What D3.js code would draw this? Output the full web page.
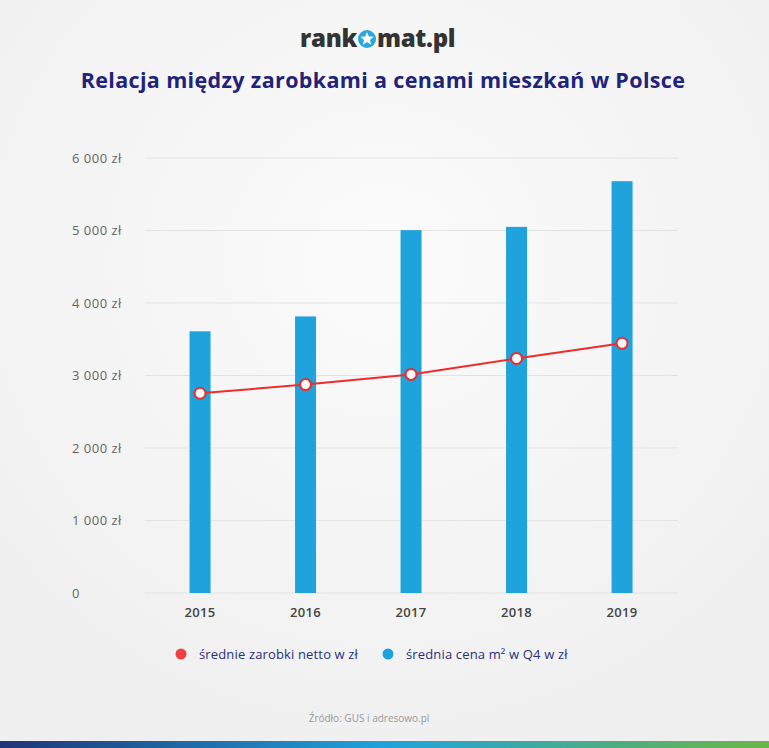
<!DOCTYPE html>
<html><head><meta charset="utf-8">
<script src="https://cdn.jsdelivr.net/npm/d3@7"></script>
<style>html,body{margin:0;padding:0;background:#f1f1f1;}svg{display:block;}</style>
</head><body>
<script>
const years = ["2015","2016","2017","2018","2019"];
const salary = [2755, 2875, 3015, 3235, 3445];
const pricePerM2 = [3610, 3815, 5005, 5050, 5680];
const yTicks = [0, 1000, 2000, 3000, 4000, 5000, 6000];
const legendLabels = ["średnie zarobki netto w zł", "średnia cena m² w Q4 w zł"];

const W = 769, H = 748;
const svg = d3.select("body").append("svg").attr("width", W).attr("height", H);
const defs = svg.append("defs");
const bg = defs.append("radialGradient").attr("id","bg").attr("cx","50%").attr("cy","35%").attr("r","70%");
bg.append("stop").attr("offset","0%").attr("stop-color","#fbfbfb");
bg.append("stop").attr("offset","100%").attr("stop-color","#efefef");
svg.append("rect").attr("width",W).attr("height",H).attr("fill","url(#bg)");

const bar = defs.append("linearGradient").attr("id","bottom");
bar.append("stop").attr("offset","0%").attr("stop-color","#1f3575");
bar.append("stop").attr("offset","50%").attr("stop-color","#1fa3dc");
bar.append("stop").attr("offset","100%").attr("stop-color","#6cb547");
svg.append("rect").attr("x",0).attr("y",741).attr("width",W).attr("height",7).attr("fill","url(#bottom)");

// Logo
const logo = svg.append("g").attr("font-family","'Open Sans', sans-serif").attr("font-weight",800).attr("font-size",24).attr("fill","#333").attr("letter-spacing",-0.3);
logo.append("text").attr("x",357).attr("y",47).attr("text-anchor","end").text("rank");
const lc = logo.append("g").attr("transform","translate(367,39)");
lc.append("circle").attr("r",9).attr("fill","#2aa7df");
const star = d3.range(10).map(i => {
  const a = -Math.PI/2 + i*Math.PI/5, r = i%2===0 ? 7 : 3.1;
  return [r*Math.cos(a), r*Math.sin(a)];
});
lc.append("path").attr("d","M"+star.join("L")+"Z").attr("fill","#fff");
logo.append("text").attr("x",377).attr("y",47).attr("text-anchor","start").text("mat.pl");

svg.append("text").attr("x",383).attr("y",88).attr("text-anchor","middle")
  .attr("font-family","'Open Sans', sans-serif").attr("font-weight",700).attr("font-size",21.5)
  .attr("letter-spacing",0.35)
  .attr("fill","#1f237a").text("Relacja między zarobkami a cenami mieszkań w Polsce");

const x = d3.scaleBand().domain(years).range([147.3, 674.8]);
const y = d3.scaleLinear().domain([0, 6000]).range([593, 158]);
const fmt = v => v === 0 ? "0" : d3.format(",")(v).replace(/,/g, " ") + " zł";

// grid
svg.append("g").selectAll("line").data(yTicks).join("line")
  .attr("x1",145).attr("x2",678).attr("y1",d=>y(d)).attr("y2",d=>y(d))
  .attr("stroke","#e3e3e3").attr("stroke-width",1);

// y labels
svg.append("g").selectAll("text").data(yTicks).join("text")
  .attr("x",72).attr("y",d=>y(d)+4.5).attr("font-family","'Open Sans', sans-serif")
  .attr("font-size",13).attr("letter-spacing",0.5).attr("fill","#666").text(fmt);

// bars
const bw = 21;
svg.append("g").selectAll("rect").data(pricePerM2).join("rect")
  .attr("x",(d,i)=>x(years[i])+x.bandwidth()/2-bw/2).attr("width",bw)
  .attr("y",d=>y(d)).attr("height",d=>y(0)-y(d)).attr("fill","#1fa3dc");

// x labels
svg.append("g").selectAll("text").data(years).join("text")
  .attr("x",d=>x(d)+x.bandwidth()/2).attr("y",617).attr("text-anchor","middle")
  .attr("font-family","'Open Sans', sans-serif").attr("font-weight",600)
  .attr("font-size",13).attr("letter-spacing",0.3).attr("fill","#444").text(d=>d);

// line
const line = d3.line().x((d,i)=>x(years[i])+x.bandwidth()/2).y(d=>y(d));
svg.append("path").datum(salary).attr("d",line).attr("fill","none").attr("stroke","#ef2b2d").attr("stroke-width",2);
svg.append("g").selectAll("circle").data(salary).join("circle")
  .attr("cx",(d,i)=>x(years[i])+x.bandwidth()/2).attr("cy",d=>y(d)).attr("r",5.5)
  .attr("fill","#fff").attr("stroke","#ef2b2d").attr("stroke-width",2);

// legend
const lg = svg.append("g").attr("font-family","'Open Sans', sans-serif").attr("font-size",13).attr("fill","#2a2f7a").attr("letter-spacing",0.15);
lg.append("circle").attr("cx",181).attr("cy",654).attr("r",5.5).attr("fill","#ef4044");
lg.append("text").attr("x",199).attr("y",658.5).text(legendLabels[0]);
lg.append("circle").attr("cx",388).attr("cy",654).attr("r",5.5).attr("fill","#1fa3dc");
lg.append("text").attr("x",406).attr("y",658.5).text(legendLabels[1]);

svg.append("text").attr("x",369).attr("y",722).attr("text-anchor","middle")
  .attr("font-family","'Open Sans', sans-serif").attr("font-size",10).attr("fill","#999")
  .text("Źródło: GUS i adresowo.pl");
</script>
</body></html>
